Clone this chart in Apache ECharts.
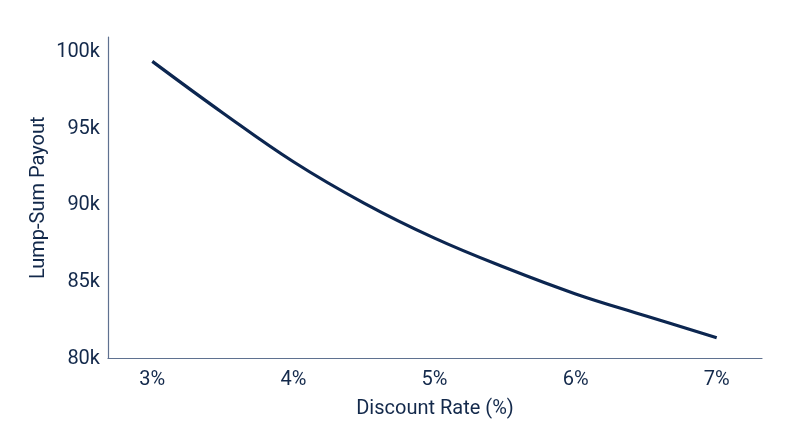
<!DOCTYPE html>
<html>
<head>
<meta charset="utf-8">
<script src="https://cdn.jsdelivr.net/npm/echarts@6/dist/echarts.min.js"></script>
<style>
html,body{margin:0;padding:0;background:#fff;}
#chart{width:800px;height:447px;}
</style>
</head>
<body>
<div id="chart"></div>
<script>
const discountRates = [3, 3.5, 4, 4.5, 5, 5.5, 6, 6.5, 7];
const payouts = [99410, 96040, 92850, 90150, 87860, 85940, 84220, 82780, 81360];
const xTicks = [3, 4, 5, 6, 7];
const yTicks = [80000, 85000, 90000, 95000, 100000];

const navy = '#13294b';
const chart = echarts.init(document.getElementById('chart'));
chart.setOption({
  animation: false,
  backgroundColor: '#ffffff',
  textStyle: { fontFamily: 'Roboto' },
  grid: { left: 108, right: 38, top: 37, bottom: 88.5, containLabel: false },
  xAxis: {
    type: 'value',
    min: 2.686,
    max: 7.321,
    name: 'Discount Rate (%)',
    nameLocation: 'middle',
    nameGap: 40,
    nameMoveOverlap: false,
    nameTextStyle: { color: navy, fontSize: 20, fontFamily: 'Roboto' },
    axisLine: { show: true, lineStyle: { color: '#5f7190', width: 1.2 } },
    axisTick: { show: false },
    splitLine: { show: false },
    axisLabel: {
      customValues: xTicks,
      formatter: v => v + '%',
      color: navy, fontSize: 20, fontFamily: 'Roboto', margin: 11
    }
  },
  yAxis: {
    type: 'value',
    min: 80000,
    max: 101000,
    name: 'Lump-Sum Payout',
    nameLocation: 'middle',
    nameRotate: 90,
    nameGap: 59,
    nameMoveOverlap: false,
    nameTextStyle: { color: navy, fontSize: 20, fontFamily: 'Roboto' },
    axisLine: { show: true, lineStyle: { color: '#5f7190', width: 1.2 } },
    axisTick: { show: false },
    splitLine: { show: false },
    axisLabel: {
      customValues: yTicks,
      formatter: v => (v / 1000) + 'k',
      color: navy, fontSize: 20, fontFamily: 'Roboto', margin: 8
    }
  },
  series: [{
    type: 'line',
    data: discountRates.map((r, i) => [r, payouts[i]]),
    smooth: 0.4,
    showSymbol: false,
    lineStyle: { color: '#0c2650', width: 3.2 },
    itemStyle: { color: '#0c2650' }
  }]
});
</script>
</body>
</html>
